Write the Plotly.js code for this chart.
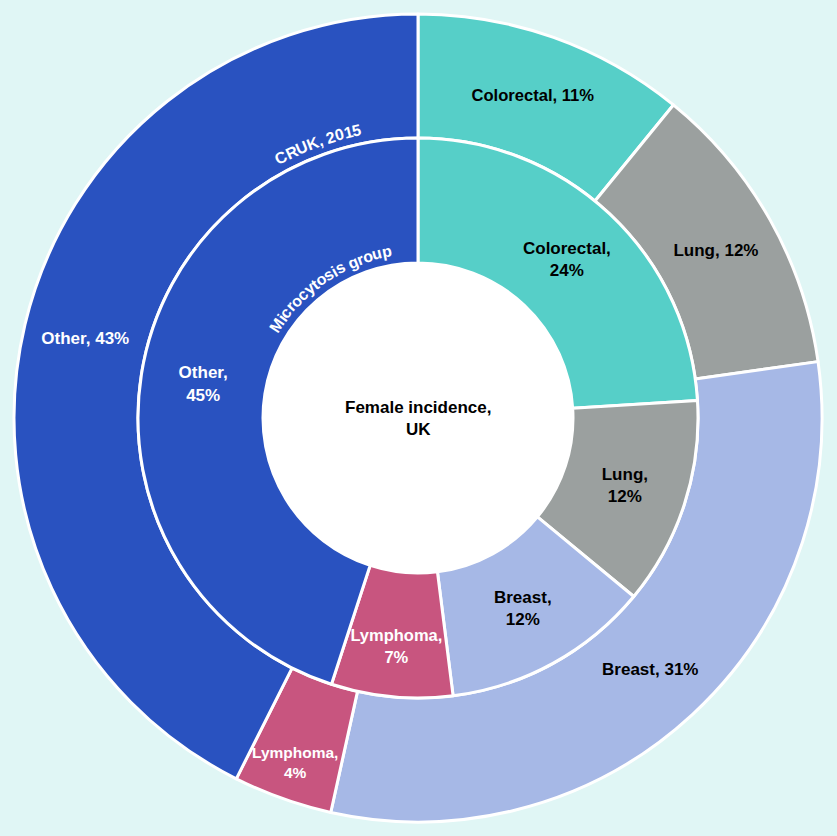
<!DOCTYPE html>
<html>
<head>
<meta charset="utf-8">
<script src="https://cdn.plot.ly/plotly-3.0.1.min.js"></script>
<style>
html,body{margin:0;padding:0;background:#E0F6F5;}
#chart{width:837px;height:836px;}
</style>
</head>
<body>
<div id="chart"></div>
<script>
// ---- data ----
const categories = ["Colorectal", "Lung", "Breast", "Lymphoma", "Other"];
const outerValues = [11, 12, 31, 4, 43];   // CRUK, 2015 (female incidence, UK)
const innerValues = [24, 12, 12, 7, 45];   // Microcytosis group
const outerBreaks = [" ", " ", " ", "<br>", " "];
const innerBreaks = ["<br>", "<br>", "<br>", "<br>", "<br>"];
const centerTitle = "Female incidence,<br>UK";
const outerRingTitle = "CRUK, 2015";
const innerRingTitle = "Microcytosis group";

// ---- style ----
const colors = ["#56CFC8", "#9BA09F", "#A6B8E6", "#C8557F", "#2952C0"];
const textColors = ["#000000", "#000000", "#000000", "#FFFFFF", "#FFFFFF"];
const FONT = "Liberation Sans, Arial, sans-serif";
const W = 837, H = 836, M = 14;
const side = 808;                 // plot area side (px)
const R_OUT = 404, R_MID = 280, R_IN = 155;

const outerText = categories.map((c, i) => c + "," + outerBreaks[i] + outerValues[i] + "%");
const innerText = categories.map((c, i) => c + "," + innerBreaks[i] + innerValues[i] + "%");

// the narrow outer slice keeps its text as an annotation
const narrowIdx = categories.indexOf("Lymphoma");
const outerTextPos = categories.map((c, i) => i === narrowIdx ? "none" : "inside");

const innerFrac = R_MID / side;
const traces = [
  {
    type: "pie",
    values: outerValues,
    labels: categories,
    text: outerText,
    texttemplate: "%{text}",
    textposition: outerTextPos,
    insidetextorientation: "horizontal",
    sort: false,
    direction: "clockwise",
    hole: R_MID / R_OUT,
    domain: {x: [0, 1], y: [0, 1]},
    marker: {colors: colors, line: {color: "#FFFFFF", width: 3}},
    textfont: {family: FONT, size: 17, color: textColors, weight: "bold"},
    hoverinfo: "skip",
    showlegend: false
  },
  {
    type: "pie",
    values: innerValues,
    labels: categories,
    text: innerText,
    texttemplate: "%{text}",
    textposition: "inside",
    insidetextorientation: "horizontal",
    sort: false,
    direction: "clockwise",
    hole: R_IN / R_MID,
    domain: {x: [0.5 - innerFrac, 0.5 + innerFrac], y: [0.5 - innerFrac, 0.5 + innerFrac]},
    marker: {colors: colors, line: {color: "#FFFFFF", width: 3}},
    textfont: {family: FONT, size: 17, color: textColors, weight: "bold"},
    hoverinfo: "skip",
    showlegend: false
  }
];

// curved ring titles: one annotation per character along an arc
function measure(txt, size) {
  const c = document.createElement("canvas").getContext("2d");
  c.font = "bold " + size + "px " + FONT;
  return c.measureText(txt).width;
}
function arcText(str, radius, centerDeg, size) {
  const anns = [];
  const total = measure(str, size);
  let acc = 0;
  for (let i = 0; i < str.length; i++) {
    const ch = str[i];
    const w = measure(ch, size);
    const mid = acc + w / 2 - total / 2;
    acc += w;
    if (ch === " ") continue;
    const deg = centerDeg + (mid / radius) * 180 / Math.PI;
    const rad = deg * Math.PI / 180;
    anns.push({
      xref: "paper", yref: "paper",
      x: 0.5 + radius * Math.sin(rad) / side,
      y: 0.5 + radius * Math.cos(rad) / side,
      text: ch, showarrow: false, textangle: deg,
      xanchor: "center", yanchor: "middle",
      font: {family: FONT, size: size, color: "#FFFFFF", weight: "bold"}
    });
  }
  return anns;
}

// label for the narrow outer slice, placed at the slice's mid angle (from the data)
const outerTotal = outerValues.reduce((a, b) => a + b, 0);
const before = outerValues.slice(0, narrowIdx).reduce((a, b) => a + b, 0);
const midDeg = (before + outerValues[narrowIdx] / 2) / outerTotal * 360;
const labelR = 366;
const narrowAnn = {
  xref: "paper", yref: "paper",
  x: 0.5 + labelR * Math.sin(midDeg * Math.PI / 180) / side,
  y: 0.5 + labelR * Math.cos(midDeg * Math.PI / 180) / side,
  text: outerText[narrowIdx], showarrow: false,
  xanchor: "center", yanchor: "middle",
  font: {family: FONT, size: 15.5, color: textColors[narrowIdx], weight: "bold"}
};

const annotations = [
  {
    xref: "paper", yref: "paper", x: 0.5, y: 0.5,
    text: centerTitle, showarrow: false,
    font: {family: FONT, size: 17, color: "#000000", weight: "bold"}
  },
  narrowAnn
].concat(arcText(outerRingTitle, 294, -20, 16))
 .concat(arcText(innerRingTitle, 169, -34, 16));

const holeFrac = R_IN / side;
const layout = {
  width: W, height: H,
  margin: {l: M, r: W - M - side, t: M, b: H - M - side, pad: 0},
  paper_bgcolor: "#E0F6F5",
  plot_bgcolor: "#E0F6F5",
  showlegend: false,
  annotations: annotations,
  shapes: [{
    type: "circle", xref: "paper", yref: "paper", layer: "below",
    x0: 0.5 - holeFrac, x1: 0.5 + holeFrac, y0: 0.5 - holeFrac, y1: 0.5 + holeFrac,
    fillcolor: "#FFFFFF", line: {width: 0}
  }]
};

Plotly.newPlot("chart", traces, layout, {displayModeBar: false, staticPlot: true});
</script>
</body>
</html>
